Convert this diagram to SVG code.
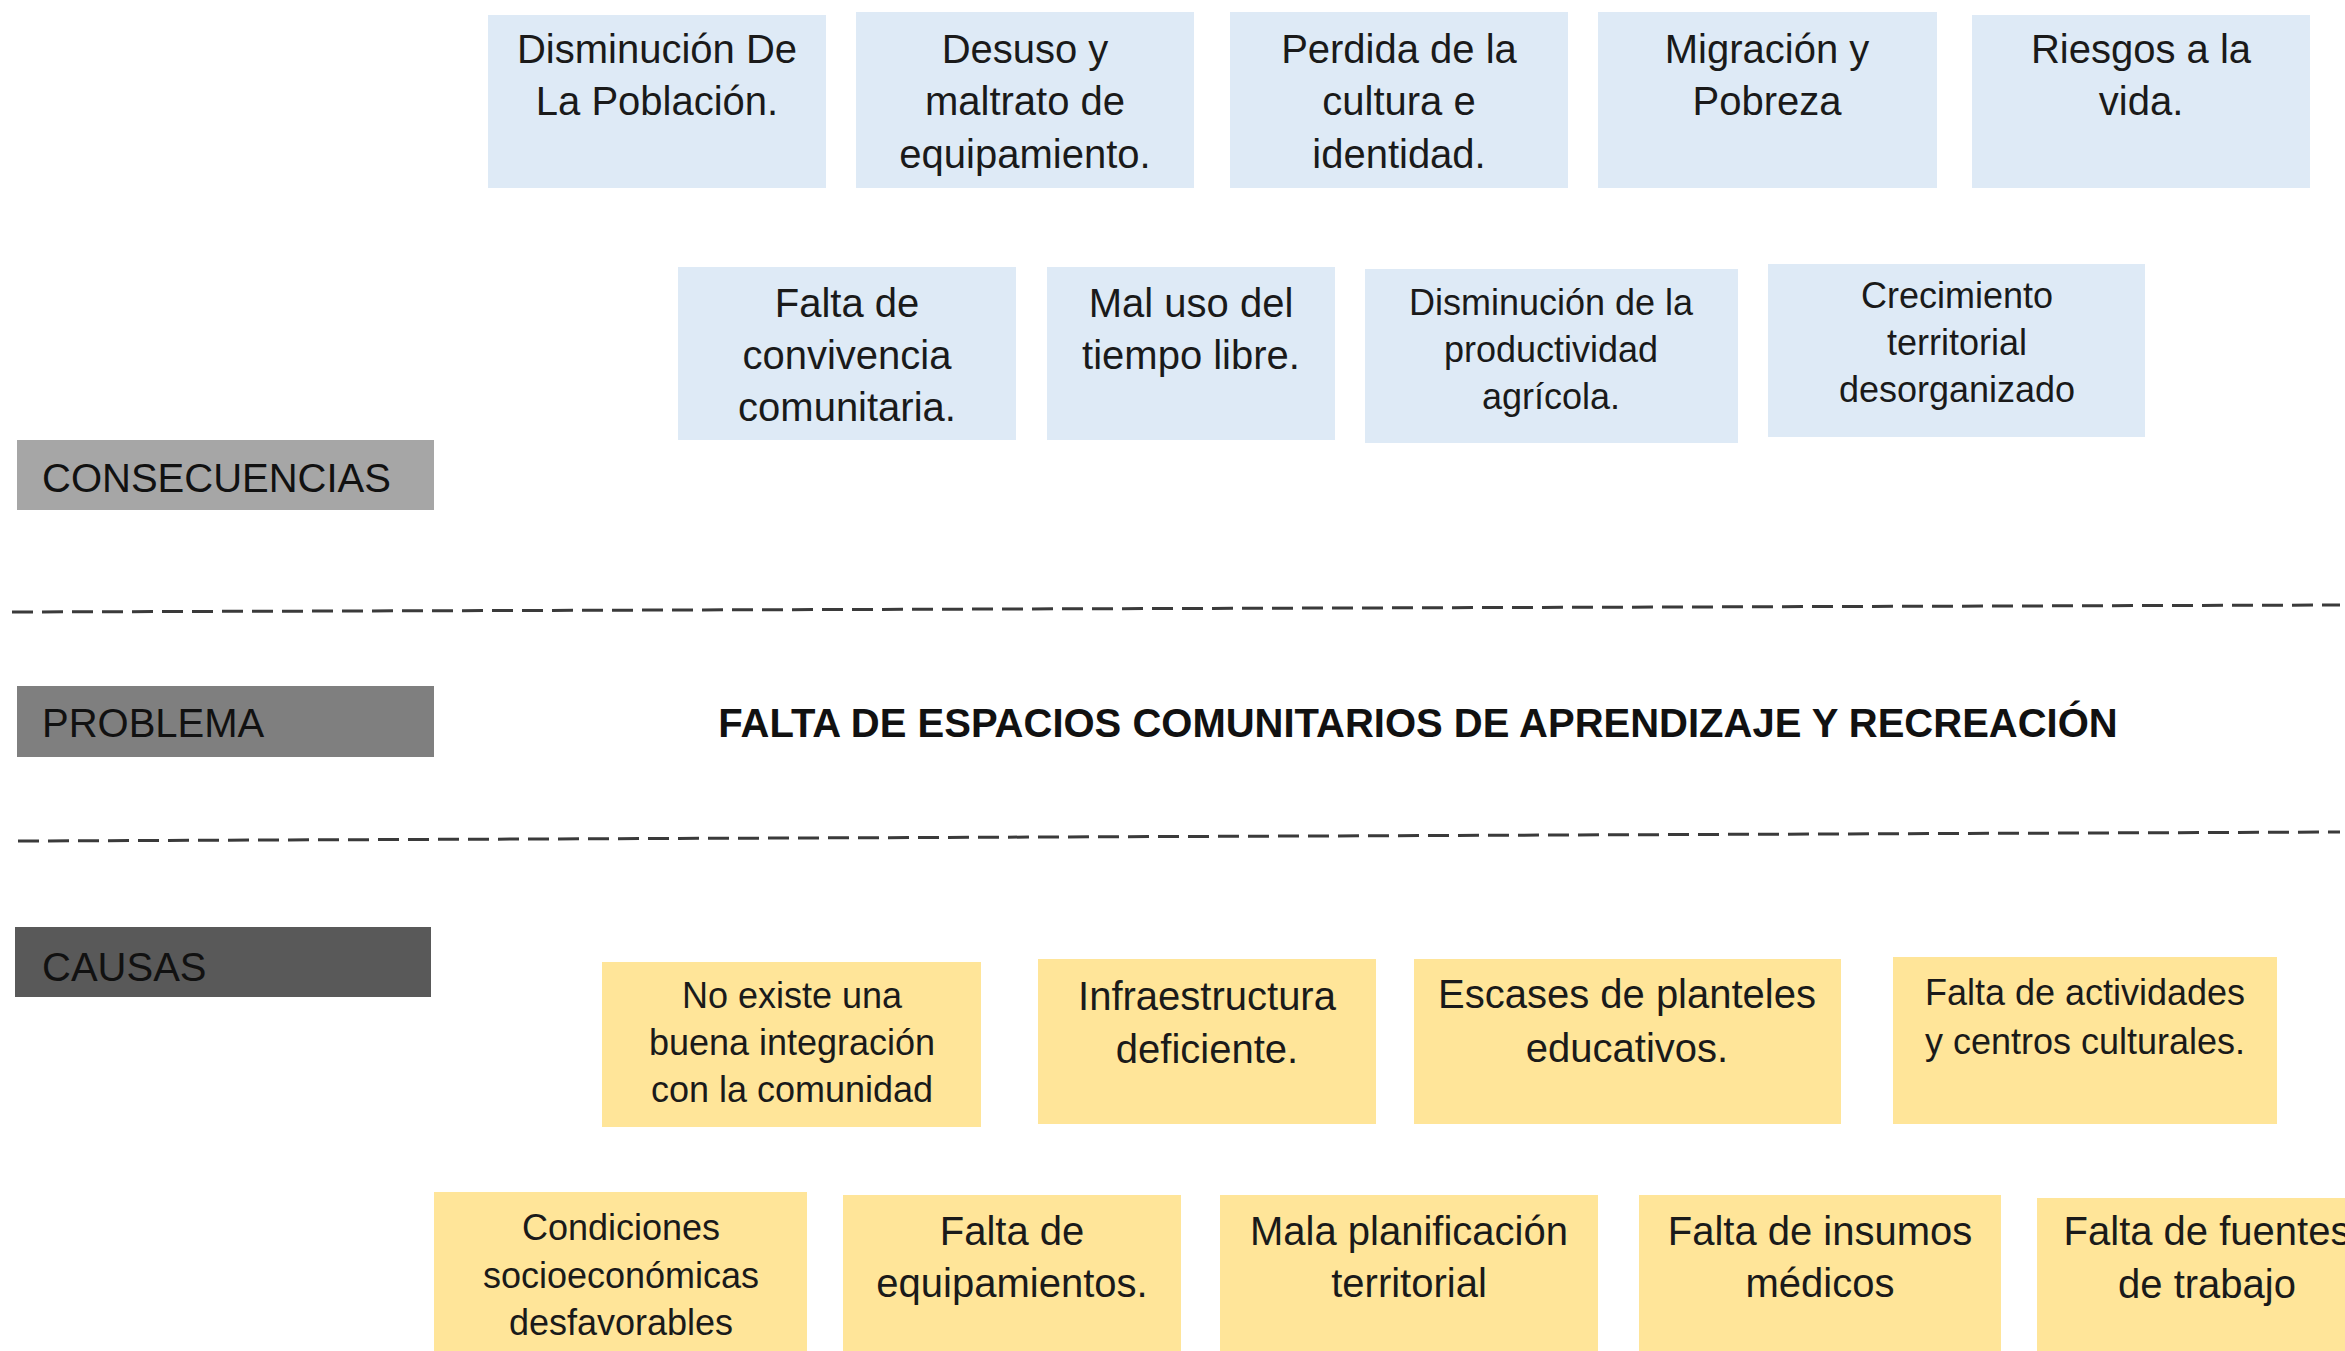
<svg xmlns="http://www.w3.org/2000/svg" width="2345" height="1351" viewBox="0 0 2345 1351">
<style>
.b{fill:#DEEAF6}
.y{fill:#FFE599}
.t{font-family:"Liberation Sans",Arial,sans-serif;fill:#1a1a1a;text-anchor:middle}
.l{font-size:40px}
.s{font-size:36px}
.lab{font-family:"Liberation Sans",Arial,sans-serif;font-size:40px;fill:#111}
.dash{stroke:#3a3a3a;stroke-width:3;stroke-dasharray:21 9;fill:none}
</style>
<rect width="2345" height="1351" fill="#ffffff"/>
<g id="lbl-consecuencias"><rect x="17" y="440" width="417" height="70" fill="#A6A6A6"/><text class="lab" x="42" y="492">CONSECUENCIAS</text></g>
<g id="lbl-problema"><rect x="17" y="686" width="417" height="71" fill="#7F7F7F"/><text class="lab" x="42" y="737">PROBLEMA</text></g>
<g id="lbl-causas"><rect x="15" y="927" width="416" height="70" fill="#595959"/><text class="lab" x="42" y="981">CAUSAS</text></g>
<g id="problema"><text x="1418" y="737" font-family="Liberation Sans,Arial,sans-serif" font-size="40" font-weight="bold" fill="#111" text-anchor="middle">FALTA DE ESPACIOS COMUNITARIOS DE APRENDIZAJE Y RECREACIÓN</text></g>
<g id="connectors">
<line class="dash" x1="12" y1="612" x2="2340" y2="605"/>
<line class="dash" x1="18" y1="841" x2="2340" y2="832"/>
</g>
<g id="c1"><rect class="b" x="488" y="15" width="338" height="173"/><text class="t l" x="657" y="63">Disminución De</text><text class="t l" x="657" y="115">La Población.</text></g>
<g id="c2"><rect class="b" x="856" y="12" width="338" height="176"/><text class="t l" x="1025" y="63">Desuso y</text><text class="t l" x="1025" y="115">maltrato de</text><text class="t l" x="1025" y="168">equipamiento.</text></g>
<g id="c3"><rect class="b" x="1230" y="12" width="338" height="176"/><text class="t l" x="1399" y="63">Perdida de la</text><text class="t l" x="1399" y="115">cultura e</text><text class="t l" x="1399" y="168">identidad.</text></g>
<g id="c4"><rect class="b" x="1598" y="12" width="339" height="176"/><text class="t l" x="1767" y="63">Migración y</text><text class="t l" x="1767" y="115">Pobreza</text></g>
<g id="c5"><rect class="b" x="1972" y="15" width="338" height="173"/><text class="t l" x="2141" y="63">Riesgos a la</text><text class="t l" x="2141" y="115">vida.</text></g>
<g id="c6"><rect class="b" x="678" y="267" width="338" height="173"/><text class="t l" x="847" y="317">Falta de</text><text class="t l" x="847" y="369">convivencia</text><text class="t l" x="847" y="421">comunitaria.</text></g>
<g id="c7"><rect class="b" x="1047" y="267" width="288" height="173"/><text class="t l" x="1191" y="317">Mal uso del</text><text class="t l" x="1191" y="369">tiempo libre.</text></g>
<g id="c8"><rect class="b" x="1365" y="269" width="373" height="174"/><text class="t s" x="1551" y="315">Disminución de la</text><text class="t s" x="1551" y="362">productividad</text><text class="t s" x="1551" y="409">agrícola.</text></g>
<g id="c9"><rect class="b" x="1768" y="264" width="377" height="173"/><text class="t s" x="1957" y="308">Crecimiento</text><text class="t s" x="1957" y="355">territorial</text><text class="t s" x="1957" y="402">desorganizado</text></g>
<g id="k1"><rect class="y" x="602" y="962" width="379" height="165"/><text class="t s" x="792" y="1008">No existe una</text><text class="t s" x="792" y="1055">buena integración</text><text class="t s" x="792" y="1102">con la comunidad</text></g>
<g id="k2"><rect class="y" x="1038" y="959" width="338" height="165"/><text class="t l" x="1207" y="1010">Infraestructura</text><text class="t l" x="1207" y="1063">deficiente.</text></g>
<g id="k3"><rect class="y" x="1414" y="959" width="427" height="165"/><text class="t l" x="1627" y="1008">Escases de planteles</text><text class="t l" x="1627" y="1062">educativos.</text></g>
<g id="k4"><rect class="y" x="1893" y="957" width="384" height="167"/><text class="t s" x="2085" y="1005">Falta de actividades</text><text class="t s" x="2085" y="1054">y centros culturales.</text></g>
<g id="k5"><rect class="y" x="434" y="1192" width="373" height="170"/><text class="t s" x="621" y="1240">Condiciones</text><text class="t s" x="621" y="1288">socioeconómicas</text><text class="t s" x="621" y="1335">desfavorables</text></g>
<g id="k6"><rect class="y" x="843" y="1195" width="338" height="170"/><text class="t l" x="1012" y="1245">Falta de</text><text class="t l" x="1012" y="1297">equipamientos.</text></g>
<g id="k7"><rect class="y" x="1220" y="1195" width="378" height="170"/><text class="t l" x="1409" y="1245">Mala planificación</text><text class="t l" x="1409" y="1297">territorial</text></g>
<g id="k8"><rect class="y" x="1639" y="1195" width="362" height="170"/><text class="t l" x="1820" y="1245">Falta de insumos</text><text class="t l" x="1820" y="1297">médicos</text></g>
<g id="k9"><rect class="y" x="2037" y="1198" width="340" height="170"/><text class="t l" x="2207" y="1245">Falta de fuentes</text><text class="t l" x="2207" y="1298">de trabajo</text></g>
</svg>
